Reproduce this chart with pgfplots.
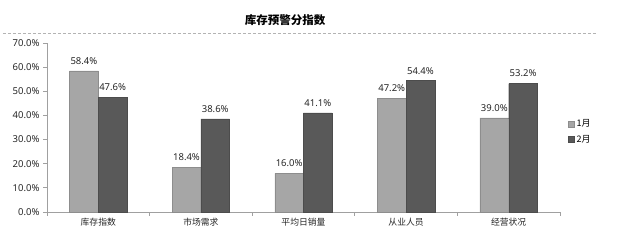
\documentclass[border=0pt]{standalone}
\usepackage{fontspec}
\setmainfont{Noto Sans CJK SC}
\newfontfamily\numfont{Noto Sans}
\usepackage{pgfplots}
\pgfplotsset{compat=1.18}
\definecolor{janc}{HTML}{A6A6A6}
\definecolor{febc}{HTML}{595959}
\definecolor{axc}{HTML}{A0A0A0}
\begin{document}
\begin{tikzpicture}
\begin{axis}[
  scale only axis, width=513pt, height=169pt,
  clip=false,
  ybar=0pt, bar width=0.28,
  xmin=-0.5, xmax=4.5, ymin=0, ymax=70,
  xtick={-0.5,0.5,1.5,2.5,3.5,4.5}, xticklabels={},
  extra x ticks={0,1,2,3,4},
  extra x tick labels={库存指数,市场需求,平均日销量,从业人员,经营状况},
  extra x tick style={major tick length=0pt, tick style={draw=none}},
  ytick={0,10,...,70},
  yticklabel={\pgfmathprintnumber[fixed,fixed zerofill,precision=1]{\tick}\%},
  /pgf/number format/assume math mode=true,
  axis x line*=bottom, axis y line*=left,
  axis line style={axc, line width=0.7pt},
  tick style={axc, line width=0.7pt},
  major tick length=4pt,
  tick align=outside,
  x tick label style={font=\fontsize{8.8}{10}\selectfont, text=black!85, yshift=-3pt},
  y tick label style={font=\numfont\fontsize{9.5}{11}\selectfont, text=black!85},
  nodes near coords={\pgfmathprintnumber[fixed,fixed zerofill,precision=1]{\pgfplotspointmeta}\%},
  nodes near coords style={font=\numfont\fontsize{9.5}{11}\selectfont, text=black!85, yshift=3pt},
  legend style={at={(1.016,0.56)}, anchor=north west, draw=none, fill=none,
    font=\fontsize{9}{10}\selectfont, row sep=3pt, inner sep=0pt,
    legend cell align=left},
  legend image code/.code={\fill[#1] (0pt,-3pt) rectangle (6pt,3pt);},
]
\addplot[fill=janc, draw=janc!85!black, line width=0.3pt] coordinates {(0,58.4) (1,18.4) (2,16.0) (3,47.2) (4,39.0)};
\addplot[fill=febc, draw=febc!85!black, line width=0.3pt] coordinates {(0,47.6) (1,38.6) (2,41.1) (3,54.4) (4,53.2)};
\legend{1月,2月}
\path (rel axis cs:-0.0916,-0.2249) rectangle (rel axis cs:1.1170,1.2544);
\node[font=\bfseries\fontsize{11.5}{13}\selectfont] at (rel axis cs:0.464,1.136) {库存预警分指数};
\draw[axc!80, dash pattern=on 3pt off 2pt, line width=0.6pt] (rel axis cs:-0.0858,1.059) -- (rel axis cs:1.074,1.059);
\end{axis}
\end{tikzpicture}
\end{document}
